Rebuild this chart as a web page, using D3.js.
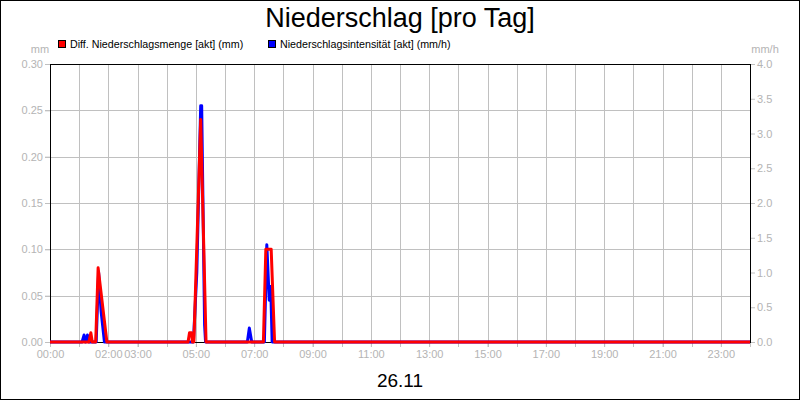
<!DOCTYPE html>
<html>
<head>
<meta charset="utf-8">
<script src="https://cdn.jsdelivr.net/npm/d3@7"></script>
<style>
	body { margin: 0; background: #fff; }
	svg { display: block; font-family: 'Liberation Sans', Arial, sans-serif; }
</style>
</head>
<body>
<div id="chart"></div>
<script>
// Diff. Niederschlagsmenge (mm) - left axis
const mengeTimes = ['00:00', '01:20', '01:24', '01:27', '01:34', '01:39', '01:57', '04:44', '04:47', '04:51', '04:53', '04:56', '05:10', '05:21', '07:19', '07:24', '07:35', '07:42', '24:00'];
const mengeValues = [0, 0, 0.01, 0, 0, 0.08, 0, 0, 0.01, 0.01, 0, 0, 0.24, 0, 0, 0.1, 0.1, 0, 0];

// Niederschlagsintensität (mm/h) - right axis
const intensTimes = ['00:00', '01:06', '01:10', '01:13', '01:17', '01:20', '01:35', '01:40', '01:45', '01:52', '04:55', '05:02', '05:10', '05:12', '05:18', '05:20', '06:46', '06:50', '06:55', '07:21', '07:26', '07:31', '07:34', '07:37', '24:00'];
const intensValues = [0, 0, 0.1, 0, 0.1, 0, 0, 1.0, 0.45, 0, 0, 1.0, 3.4, 3.4, 0.25, 0, 0, 0.2, 0, 0, 1.4, 0.6, 0.8, 0, 0];

const xTickLabels = ['00:00', '02:00', '03:00', '05:00', '07:00', '09:00', '11:00', '13:00', '15:00', '17:00', '19:00', '21:00', '23:00'];
const leftTicks = [0, 0.05, 0.1, 0.15, 0.2, 0.25, 0.3];
const rightTicks = [0, 0.5, 1, 1.5, 2, 2.5, 3, 3.5, 4];

const title = 'Niederschlag [pro Tag]';
const dateLabel = '26.11';
const legendLabels = ['Diff. Niederschlagsmenge [akt] (mm)', 'Niederschlagsintensität [akt] (mm/h)'];

const width = 800;
const height = 400;
const plot = {left: 50, right: 750, top: 64, bottom: 342};
const gridColour = '#c0c0c0';
const labelColour = '#b4b4b4';

// "HH:MM" -> minutes of the day
const toMin = (s) => +s.slice(0, 2) * 60 + +s.slice(3, 5);

const svg = d3.select('#chart').append('svg').attr('width', width).attr('height', height);

// Outer frame
svg.append('rect')
	.attr('x', 0.5).attr('y', 0.5)
	.attr('width', width - 1).attr('height', height - 1)
	.attr('fill', '#fff').attr('stroke', '#000');

const x = d3.scaleLinear().domain([0, 1440]).range([plot.left, plot.right]);
const yLeft = d3.scaleLinear().domain([0, 0.3]).range([plot.bottom, plot.top]);
const yRight = d3.scaleLinear().domain([0, 4]).range([plot.bottom, plot.top]);

// Vertical grid lines every hour, extended down as ticks
const hours = d3.range(0, 1441, 60);
svg.append('g')
	.selectAll('line')
	.data(hours)
	.enter()
	.append('line')
	.attr('x1', (d) => Math.round(x(d)) + 0.5)
	.attr('x2', (d) => Math.round(x(d)) + 0.5)
	.attr('y1', plot.top)
	.attr('y2', plot.bottom + 5)
	.attr('stroke', gridColour);

// Horizontal grid lines (left axis)
svg.append('g')
	.selectAll('line')
	.data(leftTicks)
	.enter()
	.append('line')
	.attr('x1', plot.left - 5)
	.attr('x2', plot.right)
	.attr('y1', (d) => Math.round(yLeft(d)) + 0.5)
	.attr('y2', (d) => Math.round(yLeft(d)) + 0.5)
	.attr('stroke', gridColour);

// Left axis
const leftAxis = svg.append('g')
	.attr('transform', `translate(${plot.left},0)`)
	.call(d3.axisLeft(yLeft).tickValues(leftTicks).tickFormat(d3.format('.2f')).tickSize(5).tickPadding(2));

// Right axis
const rightAxis = svg.append('g')
	.attr('transform', `translate(${plot.right},0)`)
	.call(d3.axisRight(yRight).tickValues(rightTicks).tickFormat(d3.format('.1f')).tickSize(5).tickPadding(2));

// Bottom axis labels
const bottomAxis = svg.append('g')
	.attr('transform', `translate(0,${plot.bottom})`)
	.call(d3.axisBottom(x).tickValues(xTickLabels.map(toMin)).tickFormat((d) => xTickLabels.find((t) => toMin(t) === d)).tickSize(5).tickPadding(3));

[leftAxis, rightAxis, bottomAxis].forEach((a) => {
	a.select('.domain').remove();
	a.selectAll('line').attr('stroke', gridColour);
	a.selectAll('text').attr('fill', labelColour).style('font-size', '11px').style('font-family', "'Liberation Sans', Arial, sans-serif");
});

// Plot frame
svg.append('rect')
	.attr('x', plot.left + 0.5).attr('y', plot.top + 0.5)
	.attr('width', plot.right - plot.left).attr('height', plot.bottom - plot.top)
	.attr('fill', 'none').attr('stroke', '#000');

// Unit labels
svg.append('text').attr('x', 40).attr('y', 53).attr('text-anchor', 'middle')
	.attr('fill', labelColour).style('font-size', '11px').text('mm');
svg.append('text').attr('x', 765).attr('y', 53).attr('text-anchor', 'middle')
	.attr('fill', labelColour).style('font-size', '11px').text('mm/h');

// Series lines
const intensLine = d3.line().x((d) => x(toMin(d[0]))).y((d) => yRight(d[1]));
const mengeLine = d3.line().x((d) => x(toMin(d[0]))).y((d) => yLeft(d[1]));

svg.append('path')
	.datum(d3.zip(intensTimes, intensValues))
	.attr('d', intensLine)
	.attr('fill', 'none')
	.attr('stroke', '#0000ff')
	.attr('stroke-width', 3)
	.attr('stroke-linejoin', 'round');

svg.append('path')
	.datum(d3.zip(mengeTimes, mengeValues))
	.attr('d', mengeLine)
	.attr('fill', 'none')
	.attr('stroke', '#ff0000')
	.attr('stroke-width', 3)
	.attr('stroke-linejoin', 'round');

// Legend
const legend = svg.append('g');
const legendX = [58, 268];
const legendColours = ['#ff0000', '#0000ff'];
legendLabels.forEach((l, i) => {
	legend.append('rect')
		.attr('x', legendX[i] + 0.5).attr('y', 40.5)
		.attr('width', 7).attr('height', 7)
		.attr('fill', legendColours[i]).attr('stroke', '#000');
	legend.append('text')
		.attr('x', legendX[i] + 12).attr('y', 48)
		.style('font-size', '10.7px')
		.attr('fill', '#000')
		.text(l);
});

// Title and date
svg.append('text').attr('x', 400).attr('y', 27).attr('text-anchor', 'middle')
	.style('font-size', '27px').attr('fill', '#000').text(title);
svg.append('text').attr('x', 400).attr('y', 387).attr('text-anchor', 'middle')
	.style('font-size', '19px').attr('fill', '#000').text(dateLabel);
</script>
</body>
</html>
